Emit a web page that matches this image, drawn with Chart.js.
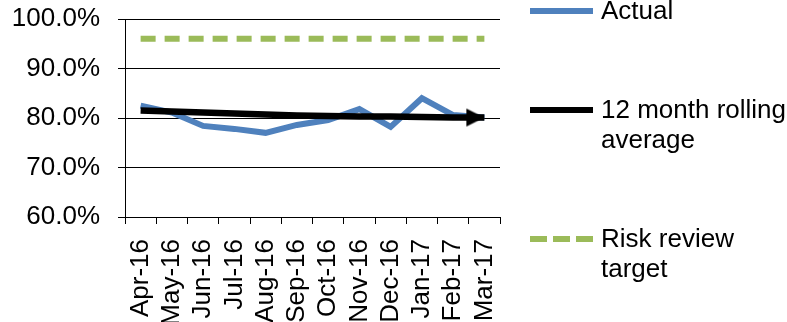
<!DOCTYPE html>
<html>
<head>
<meta charset="utf-8">
<script src="https://cdn.jsdelivr.net/npm/chart.js@4/dist/chart.umd.min.js"></script>
<style>
  html, body { margin: 0; padding: 0; background: #fff; overflow: hidden; }
  #wrap { position: relative; width: 787px; height: 322px; overflow: hidden; }
  canvas { position: absolute; left: 0; top: 0; }
  .leg { position: absolute; left: 601px; font: 26px "Liberation Sans", Arial, sans-serif; line-height: 30px; color: #000; white-space: nowrap; }
  .swatch { position: absolute; left: 530px; width: 63px; height: 6px; }
</style>
</head>
<body>
<div id="wrap">
  <canvas id="chart" width="787" height="322"></canvas>

  <div class="swatch" style="top:8px;background:#4F81BD"></div>
  <div class="leg" style="top:-5px">Actual</div>

  <div class="swatch" style="top:107px;background:#000"></div>
  <div class="leg" style="top:94px">12 month rolling<br>average</div>

  <div class="swatch" style="top:236px;background:repeating-linear-gradient(to right,#9BBB59 0 17px,transparent 17px 23px)"></div>
  <div class="leg" style="top:223px">Risk review<br>target</div>
</div>

<script>
// DATA
const months = ["Apr-16", "May-16", "Jun-16", "Jul-16", "Aug-16", "Sep-16",
                "Oct-16", "Nov-16", "Dec-16", "Jan-17", "Feb-17", "Mar-17"];
const actual = [82.5, 81.1, 78.4, 77.8, 77.0, 78.6, 79.6, 81.8, 78.2, 84.0, 80.6, 80.1];
const rolling = [81.5, 81.3, 81.1, 80.9, 80.7, 80.5, 80.4, 80.3, 80.3, 80.2, 80.1, 80.1];
const target = [96, 96, 96, 96, 96, 96, 96, 96, 96, 96, 96, 96];
const yTicks = [60, 70, 80, 90, 100];

// arrow head for the end of the rolling average (tip sits on the point)
const arrow = document.createElement("canvas");
arrow.width = 40;
arrow.height = 20;
const actx = arrow.getContext("2d");
actx.fillStyle = "#000";
actx.beginPath();
actx.moveTo(20, 10);
actx.lineTo(2, 1);
actx.lineTo(2, 19);
actx.closePath();
actx.fill();

const last = months.length - 1;
const font = { family: "'Liberation Sans', Arial, sans-serif", size: 26 };

new Chart(document.getElementById("chart"), {
  type: "line",
  data: {
    labels: months,
    datasets: [
      {
        label: "Actual",
        data: actual,
        borderColor: "#4F81BD",
        borderWidth: 6,
        pointRadius: 0,
        tension: 0,
        order: 1
      },
      {
        label: "12 month rolling average",
        data: rolling,
        borderColor: "#000",
        backgroundColor: "#000",
        borderWidth: 6.5,
        tension: 0,
        pointStyle: ctx => ctx.dataIndex === last ? arrow : "circle",
        pointRadius: ctx => ctx.dataIndex === last ? 10 : 0,
        pointBorderWidth: 0,
        order: 0
      },
      {
        label: "Risk review target",
        data: target,
        borderColor: "#9BBB59",
        borderWidth: 6,
        borderDash: [15, 9],
        pointRadius: 0,
        tension: 0,
        order: 2
      }
    ]
  },
  options: {
    responsive: false,
    animation: false,
    devicePixelRatio: 1,
    layout: { autoPadding: false, padding: { top: 19, right: 287, left: 0, bottom: 0 } },
    plugins: {
      legend: { display: false },
      tooltip: { enabled: false }
    },
    scales: {
      x: {
        offset: true,
        grid: { offset: true, drawOnChartArea: false, color: "#000", tickLength: 7 },
        border: { color: "#000", width: 1 },
        ticks: {
          color: "#000",
          font: font,
          minRotation: 90,
          maxRotation: 90,
          autoSkip: false,
          padding: 15
        },
        afterFit: s => { s.height = 105; s.paddingLeft = 0; s.paddingRight = 0; }
      },
      y: {
        min: yTicks[0],
        max: yTicks[yTicks.length - 1],
        afterBuildTicks: s => { s.ticks = yTicks.map(v => ({ value: v })); },
        grid: { color: "#000", tickLength: 7 },
        border: { color: "#000", width: 1 },
        ticks: {
          color: "#000",
          font: font,
          padding: 18,
          callback: v => v.toFixed(1) + "%"
        },
        afterFit: s => { s.width = 125; s.paddingTop = 0; s.paddingBottom = 0; }
      }
    }
  }
});
</script>
</body>
</html>
